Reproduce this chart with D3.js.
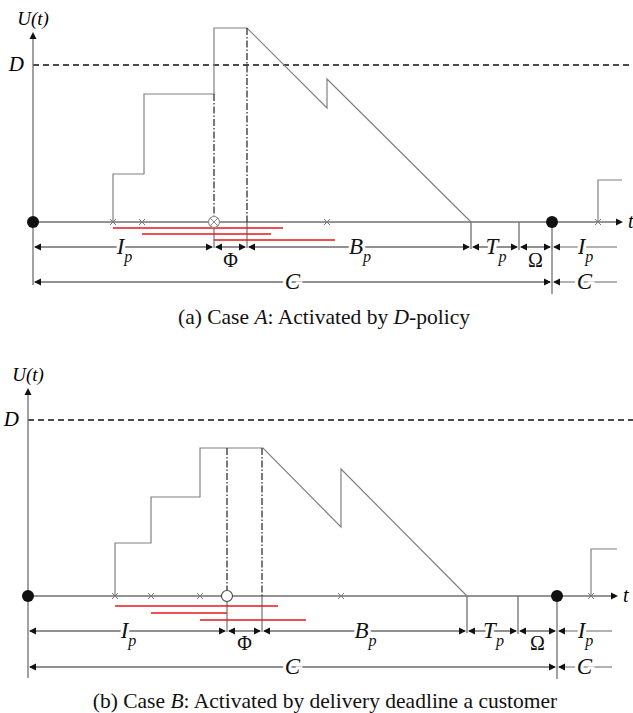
<!DOCTYPE html>
<html>
<head>
<meta charset="utf-8">
<script src="https://cdn.jsdelivr.net/npm/d3@7"></script>
<style>
  body { margin: 0; background: #fff; }
</style>
</head>
<body>
<script>
// ---- Case A : activated by D-policy ----
const arrivalsA = [80, 109, 294, 565];
const workloadA = [[80, 0], [80, 48], [111, 48], [111, 128], [181, 128], [181, 194], [214, 194], [294, 114], [294, 143], [438, 0]];
const nextStepA = [[565, 0], [565, 42], [589, 42]];
const waitsA = [[80, 250], [109, 238], [181, 302]];
const dashTopsA = [128, 194];
const levelDA = 157;
const activationA = 181;
const serviceStartA = 214;
const busyEndA = 438;
const tpEndA = 486;
const cycleEndA = 519;

// ---- Case B : activated by delivery deadline ----
const arrivalsB = [87, 123, 172, 313, 563];
const workloadB = [[87, 0], [87, 53], [123, 53], [123, 99], [172, 99], [172, 148], [235, 148], [313, 69], [313, 127], [439, 0]];
const nextStepB = [[563, 0], [563, 47], [589, 47]];
const waitsB = [[87, 250], [123, 199], [172, 278]];
const dashTopsB = [148, 148];
const levelDB = 176;
const activationB = 199;
const serviceStartB = 234;
const busyEndB = 439;
const tpEndB = 490;
const cycleEndB = 529;

const tMax = 590;
const rowEnd = 584;

const captionA = ["(a) Case ", "A", ": Activated by ", "D", "-policy"];
const captionB = ["(b) Case ", "B", ": Activated by delivery deadline a customer"];

const serif = "'Liberation Serif', 'Times New Roman', serif";
const width = 633, height = 713;
const svg = d3.select("body").append("svg").attr("width", width).attr("height", height)
  .attr("font-family", serif);

function arrow(g, x, y, dir) {
  const L = 7, H = 3.5;
  let pts;
  if (dir === "r") pts = [[x, y], [x - L, y - H], [x - L, y + H]];
  else if (dir === "l") pts = [[x, y], [x + L, y - H], [x + L, y + H]];
  else pts = [[x, y], [x - H, y + L], [x + H, y + L]];
  g.append("path").attr("d", "M" + pts.join("L") + "Z").attr("fill", "#111");
}

function label(g, x, y, main, sub, size, italic) {
  const t = g.append("text").attr("x", x).attr("y", y)
    .attr("text-anchor", "middle")
    .attr("font-family", serif)
    .attr("font-size", size)
    .attr("font-style", italic ? "italic" : "normal")
    .attr("fill", "#111")
    .attr("stroke", "#fff").attr("stroke-width", 6).attr("paint-order", "stroke");
  t.append("tspan").text(main);
  if (sub) t.append("tspan").attr("font-size", size * 0.7).attr("dy", 8).text(sub);
}

function drawPanel(p) {
  const g = svg.append("g");
  const x = d3.scaleLinear().domain([0, tMax]).range([p.x0, p.x0 + tMax]);
  const y = d3.scaleLinear().domain([0, 200]).range([p.y0, p.y0 - 200]);
  const line = d3.line().x(d => x(d[0])).y(d => y(d[1]));
  const r1 = p.y0 + p.row1, r2 = p.y0 + p.row2;

  // D level
  g.append("line").attr("x1", x(0)).attr("x2", x(rowEnd + 33)).attr("y1", y(p.levelD)).attr("y2", y(p.levelD))
    .attr("stroke", "#111").attr("stroke-width", 1.5).attr("stroke-dasharray", "6,4");
  g.append("text").attr("x", x(0) - 9).attr("y", y(p.levelD) + 6).attr("text-anchor", "end")
    .attr("font-size", 21).attr("font-style", "italic").text("D");

  // axes
  g.append("line").attr("x1", x(0)).attr("x2", x(0)).attr("y1", y(p.uTop) + 4).attr("y2", p.y0 + p.axisBottom)
    .attr("stroke", "#707070").attr("stroke-width", 1.3);
  arrow(g, x(0), y(p.uTop), "u");
  g.append("text").attr("x", x(0)).attr("y", y(p.uTop) - 7).attr("text-anchor", "middle")
    .attr("font-size", 19).attr("font-style", "italic").text("U(t)");
  g.append("line").attr("x1", x(0)).attr("x2", x(tMax) - 4).attr("y1", y(0)).attr("y2", y(0))
    .attr("stroke", "#707070").attr("stroke-width", 1.3);
  arrow(g, x(tMax), y(0), "r");
  g.append("text").attr("x", x(tMax) + 5).attr("y", y(0) + 6)
    .attr("font-size", 20).attr("font-style", "italic").text("t");

  // workload
  g.append("path").attr("d", line(p.workload)).attr("fill", "none").attr("stroke", "#808080").attr("stroke-width", 1.2);
  g.append("path").attr("d", line(p.nextStep)).attr("fill", "none").attr("stroke", "#808080").attr("stroke-width", 1.2);

  // dash-dot verticals
  [p.activation, p.serviceStart].forEach((t, i) => {
    g.append("line").attr("x1", x(t)).attr("x2", x(t)).attr("y1", y(p.dashTops[i])).attr("y2", y(0))
      .attr("stroke", "#222").attr("stroke-width", 1.2).attr("stroke-dasharray", "7,2,1.5,2");
    g.append("line").attr("x1", x(t)).attr("x2", x(t)).attr("y1", y(0)).attr("y2", r1 + 1)
      .attr("stroke", "#555").attr("stroke-width", 1);
  });

  // boundary ticks
  [[p.busyEnd, r1 + 2], [p.tpEnd, r1 + 3], [p.cycleEnd, r2 + 12]].forEach(([t, yb]) => {
    g.append("line").attr("x1", x(t)).attr("x2", x(t)).attr("y1", y(0)).attr("y2", yb)
      .attr("stroke", "#707070").attr("stroke-width", 1.3);
  });

  // waiting times (red)
  p.waits.forEach((w, i) => {
    const ry = y(0) + p.redStart + p.redGap * i;
    g.append("line").attr("x1", x(w[0])).attr("x2", x(w[1])).attr("y1", ry).attr("y2", ry)
      .attr("stroke", "#e8161b").attr("stroke-width", 1.6);
  });

  // arrival markers
  g.selectAll(null).data(p.arrivals).enter().append("path")
    .attr("d", d => `M${x(d) - 3},${y(0) - 3}L${x(d) + 3},${y(0) + 3}M${x(d) - 3},${y(0) + 3}L${x(d) + 3},${y(0) - 3}`)
    .attr("stroke", "#777").attr("stroke-width", 1);

  // activation marker
  g.append("circle").attr("cx", x(p.activation)).attr("cy", y(0)).attr("r", 5.5)
    .attr("fill", "#fff").attr("stroke", p.crossed ? "#888" : "#444").attr("stroke-width", 1.1);
  if (p.crossed) {
    const c = x(p.activation), s = 3.9;
    g.append("path").attr("d", `M${c - s},${y(0) - s}L${c + s},${y(0) + s}M${c - s},${y(0) + s}L${c + s},${y(0) - s}`)
      .attr("stroke", "#888").attr("stroke-width", 1);
  }

  // cycle dots
  [0, p.cycleEnd].forEach(t => g.append("circle").attr("cx", x(t)).attr("cy", y(0)).attr("r", 6).attr("fill", "#111"));

  // dimension rows
  const row1 = [
    [0, p.activation, "I", "p", false],
    [p.activation, p.serviceStart, "\u03A6", null, true],
    [p.serviceStart, p.busyEnd, "B", "p", false],
    [p.busyEnd, p.tpEnd, "T", "p", false],
    [p.tpEnd, p.cycleEnd, "\u03A9", null, true],
    [p.cycleEnd, rowEnd, "I", "p", false, true]
  ];
  const row2 = [
    [0, p.cycleEnd, "C", null, false],
    [p.cycleEnd, rowEnd, "C", null, false, true]
  ];
  [[row1, r1], [row2, r2]].forEach(([row, ry]) => {
    row.forEach(([a, b, name, sub, below, open]) => {
      g.append("line").attr("x1", x(a) + 2).attr("x2", x(b) - (open ? 0 : 2)).attr("y1", ry).attr("y2", ry)
        .attr("stroke", open ? "#666" : "#222").attr("stroke-width", 1);
      arrow(g, x(a) + 1, ry, "l");
      if (!open) arrow(g, x(b) - 1, ry, "r");
      const mid = (x(a) + x(b)) / 2;
      if (below) label(g, mid, ry + p.belowDy, name, null, 20, false);
      else label(g, mid + (sub ? 1 : 0), ry + 7, name, sub, 23, true);
    });
  });

  // caption
  const cap = svg.append("text").attr("x", p.capX).attr("y", p.capY).attr("text-anchor", "middle")
    .attr("font-family", serif).attr("font-size", p.capSize).attr("fill", "#111");
  p.caption.forEach((s, i) => cap.append("tspan").attr("font-style", i % 2 ? "italic" : "normal").text(s));
}

drawPanel({
  x0: 33, y0: 222, uTop: 190, axisBottom: 63, row1: 25, row2: 60, redStart: 6, redGap: 6, belowDy: 20,
  arrivals: arrivalsA, workload: workloadA, nextStep: nextStepA, waits: waitsA, levelD: levelDA, dashTops: dashTopsA,
  activation: activationA, serviceStart: serviceStartA, busyEnd: busyEndA, tpEnd: tpEndA, cycleEnd: cycleEndA,
  crossed: true, caption: captionA, capX: 324, capY: 324, capSize: 21.5
});

drawPanel({
  x0: 28, y0: 596, uTop: 208, axisBottom: 82, row1: 35, row2: 71, redStart: 10, redGap: 7, belowDy: 19,
  arrivals: arrivalsB, workload: workloadB, nextStep: nextStepB, waits: waitsB, levelD: levelDB, dashTops: dashTopsB,
  activation: activationB, serviceStart: serviceStartB, busyEnd: busyEndB, tpEnd: tpEndB, cycleEnd: cycleEndB,
  crossed: false, caption: captionB, capX: 325, capY: 708, capSize: 21.5
});
</script>
</body>
</html>
